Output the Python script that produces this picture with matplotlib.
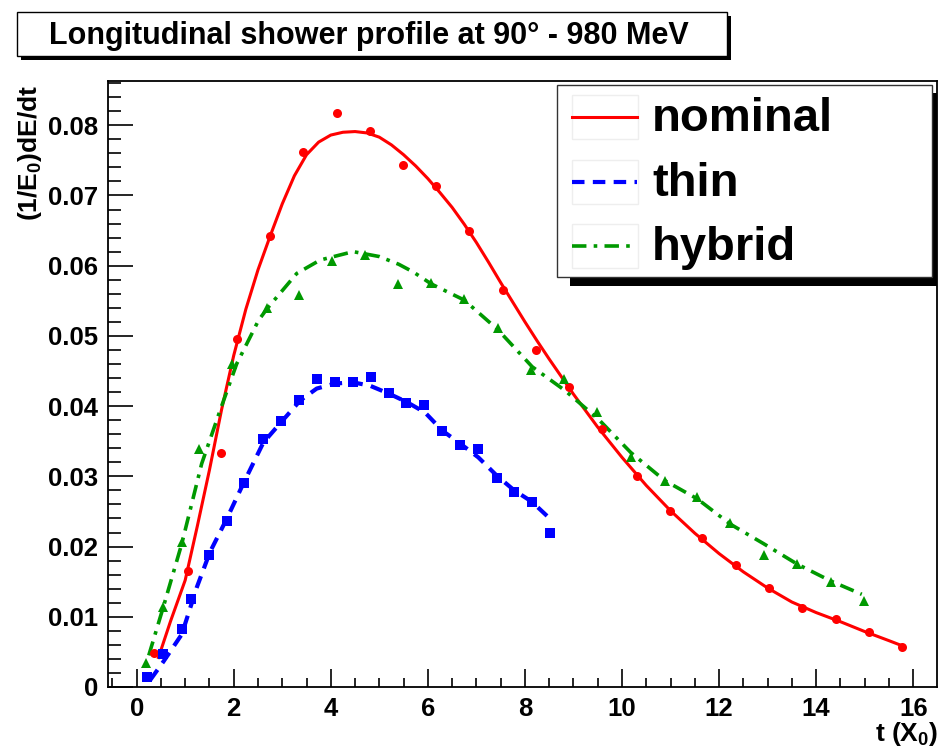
import matplotlib
matplotlib.use("Agg")
import matplotlib.pyplot as plt
from matplotlib.patches import Rectangle
from matplotlib.lines import Line2D
from matplotlib.ticker import MultipleLocator

plt.rcParams["font.family"] = ["Liberation Sans", "DejaVu Sans"]
plt.rcParams["font.weight"] = "bold"
plt.rcParams["mathtext.fontset"] = "custom"
plt.rcParams["mathtext.rm"] = "Liberation Sans:bold"
plt.rcParams["mathtext.it"] = "Liberation Sans:bold"
plt.rcParams["mathtext.bf"] = "Liberation Sans:bold"

W, H = 939, 753

# --- data ---
nominal_t = [0.36, 1.05, 1.74, 2.07, 2.75, 3.43, 4.12, 4.81, 5.49, 6.16, 6.85, 7.55,
             8.23, 8.91, 9.59, 10.30, 10.99, 11.65, 12.34, 13.03, 13.71, 14.40, 15.09, 15.77]
nominal_v = [0.0048, 0.0165, 0.0333, 0.0496, 0.0642, 0.0762, 0.0818, 0.0792, 0.0744, 0.0714,
             0.0649, 0.0565, 0.0480, 0.0427, 0.0367, 0.0301, 0.0250, 0.0212, 0.0174, 0.0141,
             0.0113, 0.0097, 0.0078, 0.0057]
nominal_fit_t = [0.45, 0.7, 1.0, 1.25, 1.5, 1.75, 2.0, 2.25, 2.5, 2.75, 3.0, 3.25, 3.5, 3.75,
                 4.0, 4.25, 4.5, 4.75, 5.0, 5.25, 5.5, 5.75, 6.0, 6.25, 6.5, 6.75, 7.0,
                 7.25, 7.5, 7.75, 8.0, 8.25, 8.5, 8.75, 9.0, 9.5, 10.0, 10.5, 11.0, 11.5,
                 12.0, 12.5, 13.0, 13.5, 14.0, 14.5, 15.0, 15.5, 15.8]
nominal_fit_v = [0.0042, 0.0094, 0.0152, 0.0229, 0.0309, 0.0395, 0.0472, 0.0538, 0.0594,
                 0.0642, 0.0688, 0.0728, 0.0758, 0.0776, 0.0786, 0.0790, 0.0791, 0.0789,
                 0.0783, 0.0772, 0.0758, 0.0742, 0.0724, 0.0704, 0.0683, 0.0659, 0.0633,
                 0.0605, 0.0576, 0.0548, 0.0520, 0.0493, 0.0467, 0.0442, 0.0417, 0.0370,
                 0.0327, 0.0287, 0.0251, 0.0219, 0.0190, 0.0164, 0.0141, 0.0121, 0.0106,
                 0.0093, 0.0079, 0.0066, 0.0058]

thin_t = [0.21, 0.55, 0.93, 1.11, 1.50, 1.86, 2.21, 2.61, 2.97, 3.34, 3.71, 4.08, 4.45, 4.83,
          5.19, 5.56, 5.93, 6.30, 6.66, 7.04, 7.42, 7.78, 8.14, 8.51]
thin_v = [0.0014, 0.0047, 0.0082, 0.0126, 0.0188, 0.0237, 0.0290, 0.0353, 0.0379, 0.0409,
          0.0438, 0.0434, 0.0434, 0.0442, 0.0418, 0.0404, 0.0402, 0.0364, 0.0345, 0.0339,
          0.0298, 0.0277, 0.0264, 0.0220]
thin_fit_t = [0.28, 0.55, 0.93, 1.24, 1.51, 1.86, 2.20, 2.61, 2.95, 3.37, 3.71, 4.08, 4.45,
              4.81, 5.19, 5.56, 5.94, 6.30, 6.66, 7.04, 7.42, 7.78, 8.14, 8.48]
thin_fit_v = [0.0010, 0.0036, 0.0075, 0.0142, 0.0192, 0.0240, 0.0290, 0.0348, 0.0375, 0.0408,
              0.0425, 0.0432, 0.0434, 0.0429, 0.0418, 0.0406, 0.0391, 0.0365, 0.0347, 0.0327,
              0.0301, 0.0280, 0.0264, 0.0242]

hybrid_t = [0.19, 0.55, 0.93, 1.28, 1.96, 2.69, 3.34, 4.02, 4.70, 5.39, 6.07, 6.75, 7.44,
            8.13, 8.80, 9.49, 10.19, 10.88, 11.55, 12.23, 12.92, 13.61, 14.30, 14.99]
hybrid_v = [0.0034, 0.0114, 0.0206, 0.0339, 0.0460, 0.0540, 0.0558, 0.0607, 0.0615, 0.0574,
            0.0575, 0.0553, 0.0511, 0.0451, 0.0439, 0.0392, 0.0328, 0.0294, 0.0271, 0.0234,
            0.0188, 0.0175, 0.0150, 0.0122]
hybrid_fit_t = [0.25, 0.55, 0.93, 1.34, 1.72, 2.06, 2.51, 2.69, 3.30, 3.78, 4.46, 5.0, 5.4,
                5.7, 6.07, 6.75, 7.44, 8.15, 8.83, 9.52, 10.18, 10.88, 11.55, 12.23, 12.92,
                13.61, 14.30, 14.94]
hybrid_fit_v = [0.0045, 0.0114, 0.0204, 0.0318, 0.0394, 0.0460, 0.0522, 0.0539, 0.0589, 0.0608,
                0.0620, 0.0613, 0.0602, 0.0591, 0.0574, 0.0551, 0.0509, 0.0456, 0.0422, 0.0381,
                0.0334, 0.0294, 0.0268, 0.0232, 0.0204, 0.0175, 0.0151, 0.0132]

x_ticks = [0, 2, 4, 6, 8, 10, 12, 14, 16]
x_tick_labels = ["0", "2", "4", "6", "8", "10", "12", "14", "16"]
y_ticks = [0, 0.01, 0.02, 0.03, 0.04, 0.05, 0.06, 0.07, 0.08]
y_tick_labels = ["0", "0.01", "0.02", "0.03", "0.04", "0.05", "0.06", "0.07", "0.08"]
legend_labels = ["nominal", "thin", "hybrid"]

RED, BLUE, GREEN = "#ff0000", "#0000ff", "#009900"

styles = {
    "nominal": dict(color=RED, lw=2.2, ls="-"),
    "thin": dict(color=BLUE, lw=3.0, dashes=(3, 2)),
    "hybrid": dict(color=GREEN, lw=2.6, dashes=(4, 2, 1, 2)),
}


def fx(px):
    return px / W


def fy(py):
    return 1 - py / H


fig = plt.figure(figsize=(W / 100, H / 100), dpi=100)
ax = fig.add_axes([fx(108), fy(687), fx(937) - fx(108), fy(81) - fy(687)])

ax.plot(nominal_fit_t, nominal_fit_v, **styles["nominal"], zorder=3)
ax.plot(thin_fit_t, thin_fit_v, **styles["thin"], zorder=3)
ax.plot(hybrid_fit_t, hybrid_fit_v, **styles["hybrid"], zorder=3)

ax.plot(nominal_t, nominal_v, "o", color=RED, ms=6.5, mew=0, zorder=4)
ax.plot(thin_t, thin_v, "s", color=BLUE, ms=6.5, mew=0, zorder=4)
ax.plot(hybrid_t, hybrid_v, "^", color=GREEN, ms=6.5, mew=0, zorder=4)

ax.set_xlim(-0.59, 16.49)
ax.set_ylim(0, 0.0863)
ax.set_xticks(x_ticks)
ax.set_xticklabels(x_tick_labels)
ax.set_yticks(y_ticks)
ax.set_yticklabels(y_tick_labels)
ax.xaxis.set_minor_locator(MultipleLocator(0.5))
ax.yaxis.set_minor_locator(MultipleLocator(0.002))
ax.tick_params(direction="in", top=False, right=False, labelsize=18.5, width=1.2, pad=7)
ax.tick_params(axis="x", which="major", length=13)
ax.tick_params(axis="x", which="minor", length=6.5, width=1.2)
ax.tick_params(axis="y", which="major", length=18)
ax.tick_params(axis="y", which="minor", length=9, width=1.2)
ax.tick_params(which="minor", direction="in", top=False, right=False)
for s in ax.spines.values():
    s.set_linewidth(1.3)

fig.text(fx(30), fy(85), r"(1/E$_0$)dE/dt", rotation=90, ha="center", va="top", fontsize=19)
fig.text(fx(938), fy(741), r"t (X$_0$)", ha="right", va="baseline", fontsize=19)

# title box with shadow
fig.add_artist(Rectangle((fx(21), fy(60)), fx(710), 44 / H, transform=fig.transFigure,
                         facecolor="black", edgecolor="none"))
fig.add_artist(Rectangle((fx(17), fy(56)), fx(710), 44 / H, transform=fig.transFigure,
                         facecolor="white", edgecolor="black", lw=1.0))
fig.text(fx(369), fy(44), "Longitudinal shower profile at 90\u00b0 - 980 MeV",
         ha="center", va="baseline", fontsize=22)

# legend box with shadow
fig.add_artist(Rectangle((fx(570), fy(286)), fx(367), 193 / H, transform=fig.transFigure,
                         facecolor="black", edgecolor="none", zorder=5))
fig.add_artist(Rectangle((fx(557), fy(277)), fx(375), 192 / H, transform=fig.transFigure,
                         facecolor="white", edgecolor="#333333", lw=1.0, zorder=6))
row_y = [116.7, 181.7, 245.7]
for name, ry in zip(legend_labels, row_y):
    fig.add_artist(Rectangle((fx(572), fy(ry + 22)), fx(66), 44 / H, transform=fig.transFigure,
                             facecolor="white", edgecolor="#eeeeee", lw=1.0, zorder=7))
    fig.add_artist(Line2D([fx(572), fx(637)], [fy(ry), fy(ry)], transform=fig.transFigure,
                          zorder=8, **styles[name]))
    fig.text(fx(652), fy(ry + 2), name, ha="left", va="center", fontsize=34, zorder=8)

fig.savefig("out.png", dpi=100)
